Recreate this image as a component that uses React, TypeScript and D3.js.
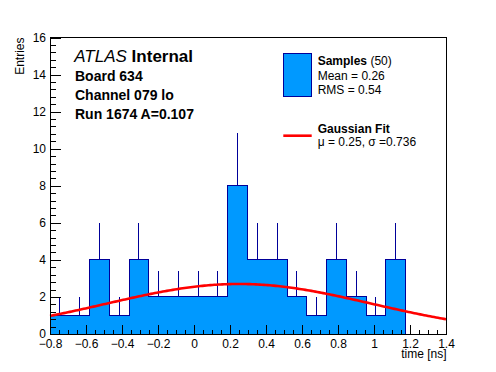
import React, { useEffect, useRef } from "react";
import * as d3 from "d3";

// histogram of sample times, 18 bins from -0.8 to 1.175 ns
const binLow = -0.8;
const binHigh = 1.175;
const counts = [1, 1, 4, 1, 4, 2, 2, 2, 2, 8, 4, 4, 2, 1, 4, 2, 1, 4];

// gaussian fit parameters
const fitMu = 0.25;
const fitSigma = 0.736;
const fitAmp = 2.7;

// axis ticks
const xTicks = [-0.8, -0.6, -0.4, -0.2, 0, 0.2, 0.4, 0.6, 0.8, 1, 1.2, 1.4];
const yTicks = [0, 2, 4, 6, 8, 10, 12, 14, 16];

// text
const headerLines = ["Board 634", "Channel 079 lo", "Run 1674 A=0.107"];
const sampleStats = ["Mean = 0.26", "RMS = 0.54"];
const fitLabel = "\u03bc = 0.25, \u03c3 =0.736";

const FONT = "'Liberation Sans', Arial, Helvetica, sans-serif";
const FILL = "#0099ff";
const LINE = "#000099";

export default function App() {
  const ref = useRef<SVGSVGElement>(null);

  useEffect(() => {
    const width = 496;
    const height = 372;
    const frame = { left: 50, right: 446, top: 37.5, bottom: 334 };

    const svg = d3.select(ref.current);
    svg.selectAll("*").remove();
    svg.attr("width", width).attr("height", height).style("background", "white");

    const x = d3.scaleLinear().domain([-0.8, 1.4]).range([frame.left, frame.right]);
    const y = d3.scaleLinear().domain([0, 16]).range([frame.bottom, frame.top]);

    const binW = (binHigh - binLow) / counts.length;
    const bins = counts.map((c, i) => ({ x0: binLow + i * binW, x1: binLow + (i + 1) * binW, n: c }));

    // histogram outline as a step path
    const pts: [number, number][] = [[x(binLow), y(0)]];
    bins.forEach(b => {
      pts.push([x(b.x0), y(b.n)]);
      pts.push([x(b.x1), y(b.n)]);
    });
    pts.push([x(binHigh), y(0)]);
    const line = d3.line();

    svg.append("path")
      .attr("d", line(pts) + "Z")
      .attr("fill", FILL)
      .attr("stroke", LINE)
      .attr("stroke-width", 1)
      .attr("shape-rendering", "crispEdges");

    // error bars (upper half visible)
    svg.selectAll(".err").data(bins).join("line").attr("class", "err")
      .attr("x1", d => x((d.x0 + d.x1) / 2)).attr("x2", d => x((d.x0 + d.x1) / 2))
      .attr("y1", d => y(d.n)).attr("y2", d => y(d.n + Math.sqrt(d.n)))
      .attr("stroke", LINE).attr("stroke-width", 1)
      .attr("shape-rendering", "crispEdges");

    // gaussian fit curve
    const gx = d3.range(0, 201).map(i => -0.8 + (2.2 * i) / 200);
    const gauss = (v: number) => fitAmp * Math.exp(-0.5 * ((v - fitMu) / fitSigma) ** 2);
    svg.append("path")
      .attr("d", d3.line<number>().x(d => x(d)).y(d => y(gauss(d)))(gx))
      .attr("fill", "none")
      .attr("stroke", "#ff0000")
      .attr("stroke-width", 2.6);

    // axes with inward ticks
    const xMinor = d3.range(-0.8, 1.4001, 0.05).map(v => +v.toFixed(2)).filter(v => !xTicks.some(t => Math.abs(t - v) < 1e-6));
    const yMinor = d3.range(0, 16.001, 0.4).map(v => +v.toFixed(1)).filter(v => !yTicks.some(t => Math.abs(t - v) < 1e-6));
    const fmt = d3.format("~g");

    const xAxisG = svg.append("g").attr("transform", `translate(0,${frame.bottom})`)
      .call(d3.axisBottom(x).tickValues(xTicks).tickFormat(d => fmt(d as number)).tickSize(-9).tickPadding(5.3));
    svg.append("g").attr("transform", `translate(0,${frame.bottom})`)
      .call(d3.axisBottom(x).tickValues(xMinor).tickFormat(() => "").tickSize(-4.5));

    const yAxisG = svg.append("g").attr("transform", `translate(${frame.left},0)`)
      .call(d3.axisLeft(y).tickValues(yTicks).tickFormat(d => fmt(d as number)).tickSize(-11).tickPadding(4));
    svg.append("g").attr("transform", `translate(${frame.left},0)`)
      .call(d3.axisLeft(y).tickValues(yMinor).tickFormat(() => "").tickSize(-5.5));

    svg.selectAll(".domain").remove();
    svg.selectAll(".tick line").attr("stroke", "black").attr("shape-rendering", "crispEdges");
    [xAxisG, yAxisG].forEach(g => g.selectAll("text")
      .attr("font-family", FONT).attr("font-size", 12).attr("fill", "black"));
    svg.selectAll("g").attr("font-family", FONT);

    // frame
    svg.append("rect")
      .attr("x", frame.left).attr("y", frame.top)
      .attr("width", frame.right - frame.left).attr("height", frame.bottom - frame.top)
      .attr("fill", "none").attr("stroke", "black").attr("stroke-width", 1)
      .attr("shape-rendering", "crispEdges");

    // axis titles
    svg.append("text")
      .attr("x", frame.right + 0.5).attr("y", 358)
      .attr("text-anchor", "end")
      .attr("font-family", FONT).attr("font-size", 12)
      .text("time [ns]");
    svg.append("text")
      .attr("transform", `translate(23.5,${frame.top}) rotate(-90)`)
      .attr("text-anchor", "end")
      .attr("font-family", FONT).attr("font-size", 12)
      .text("Entries");

    // ATLAS label
    const atlas = svg.append("text")
      .attr("x", 74.3).attr("y", 62.3)
      .attr("font-family", FONT).attr("font-size", 17);
    atlas.append("tspan").attr("font-style", "italic").text("ATLAS");
    atlas.append("tspan").attr("font-weight", "bold").text(" Internal");

    svg.selectAll(".hdr").data(headerLines).join("text").attr("class", "hdr")
      .attr("x", 75).attr("y", (d, i) => 80.7 + i * 19.2)
      .attr("font-family", FONT).attr("font-size", 14).attr("font-weight", "bold")
      .text(d => d);

    // legend
    svg.append("rect")
      .attr("x", 283.5).attr("y", 53.5).attr("width", 28).attr("height", 43)
      .attr("fill", FILL).attr("stroke", LINE).attr("stroke-width", 1)
      .attr("shape-rendering", "crispEdges");
    const s = svg.append("text").attr("x", 317.7).attr("y", 65.3)
      .attr("font-family", FONT).attr("font-size", 12);
    s.append("tspan").attr("font-weight", "bold").text("Samples");
    s.append("tspan").text(" (50)");
    svg.selectAll(".stat").data(sampleStats).join("text").attr("class", "stat")
      .attr("x", 317.7).attr("y", (d, i) => 80 + i * 14)
      .attr("font-family", FONT).attr("font-size", 12)
      .text(d => d);

    svg.append("line")
      .attr("x1", 283.3).attr("x2", 311.7).attr("y1", 135.7).attr("y2", 135.7)
      .attr("stroke", "#ff0000").attr("stroke-width", 2.6);
    svg.append("text").attr("x", 317.7).attr("y", 132.7)
      .attr("font-family", FONT).attr("font-size", 12).attr("font-weight", "bold")
      .text("Gaussian Fit");
    svg.append("text").attr("x", 317.7).attr("y", 145.5)
      .attr("font-family", FONT).attr("font-size", 12)
      .text(fitLabel);
  }, []);

  return (
    <svg ref={ref} style={{ position: "absolute", left: 0, top: 0, display: "block" }} width={496} height={372} />
  );
}
